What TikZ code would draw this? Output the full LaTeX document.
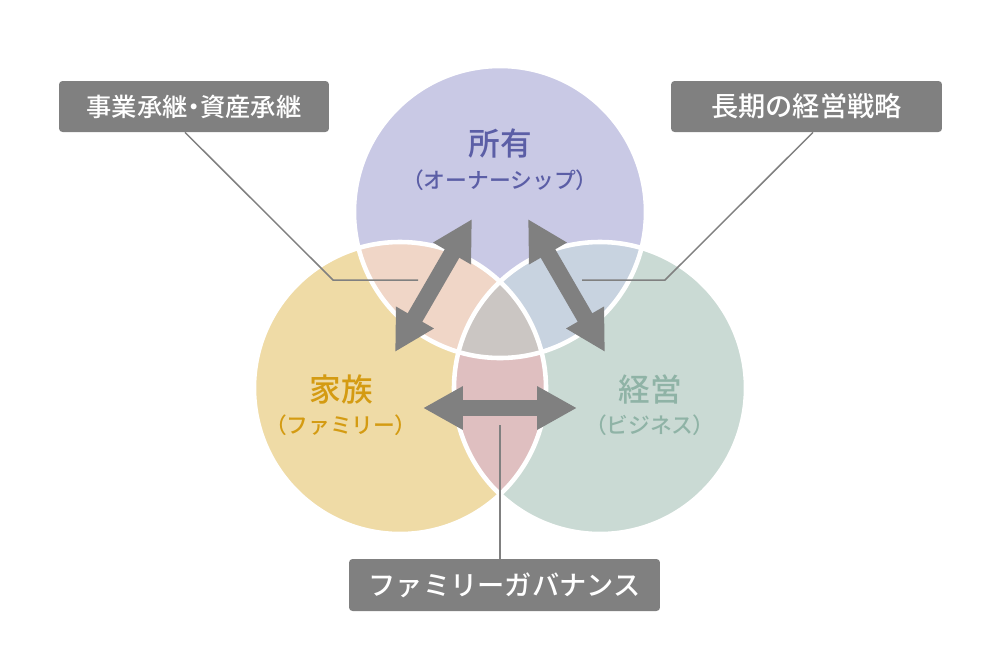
\documentclass[tikz,border=0pt]{standalone}
\usepackage{fontspec}
\setmainfont{Noto Sans CJK JP}[BoldFont={Noto Sans CJK JP Medium}]
\newfontfamily\paltfont{Noto Sans CJK JP}[BoldFont={Noto Sans CJK JP Medium}, RawFeature=+palt]
\newcommand{\lparen}{{\paltfont\bfseries （}}
\newcommand{\rparen}{{\paltfont\bfseries ）}}
\usetikzlibrary{arrows.meta}

\definecolor{ownfill}{HTML}{C9C9E5}
\definecolor{famfill}{HTML}{EFDBA6}
\definecolor{bizfill}{HTML}{CADAD4}
\definecolor{ofmix}{HTML}{F0D6C7}
\definecolor{obmix}{HTML}{C8D3E0}
\definecolor{fbmix}{HTML}{DFBFC0}
\definecolor{allmix}{HTML}{CBC6C3}
\definecolor{owntext}{HTML}{5B5EA6}
\definecolor{famtext}{HTML}{D49B12}
\definecolor{biztext}{HTML}{8FB3A6}
\definecolor{tipgray}{HTML}{808080}

\begin{document}
\begin{tikzpicture}[
  x=0.02cm, y=-0.02cm,
  ring/.style={draw=white, line width=2.6pt},
  twoway/.style={draw=tipgray, line width=9.6pt,
    {Triangle[length=22.7pt,width=23.2pt]}-{Triangle[length=22.7pt,width=23.2pt]}},
  leader/.style={draw=tipgray, line width=0.85pt},
  tag/.style={fill=tipgray, rounded corners=2pt, text=white, inner sep=0pt,
    minimum height=1.02cm, font=\bfseries\fontsize{15.5}{18}\selectfont},
  title/.style={font=\bfseries\fontsize{18}{20}\selectfont},
  subtitle/.style={font=\bfseries\fontsize{12.4}{14}\selectfont}
]
  \useasboundingbox (0,0) rectangle (1000,670);

  % circles
  \coordinate (own) at (500,212);
  \coordinate (fam) at (400,388);
  \coordinate (biz) at (600,388);
  \def\rad{146}

  \fill[ownfill] (own) circle (\rad);
  \fill[famfill] (fam) circle (\rad);
  \fill[bizfill] (biz) circle (\rad);

  % overlaps
  \begin{scope}
    \clip (own) circle (\rad);
    \fill[ofmix] (fam) circle (\rad);
    \fill[obmix] (biz) circle (\rad);
  \end{scope}
  \begin{scope}
    \clip (fam) circle (\rad);
    \fill[fbmix] (biz) circle (\rad);
  \end{scope}
  \begin{scope}
    \clip (own) circle (\rad);
    \clip (fam) circle (\rad);
    \fill[allmix] (biz) circle (\rad);
  \end{scope}

  \draw[ring] (own) circle (\rad);
  \draw[ring] (fam) circle (\rad);
  \draw[ring] (biz) circle (\rad);

  % circle labels
  \node[title, text=owntext] (ownname) at (500,143) {所有};
  \node[subtitle, text=owntext] (ownsub) at (500,180) {\lparen オーナーシップ\rparen};
  \node[title, text=famtext] (famname) at (341,389) {家族};
  \node[subtitle, text=famtext] (famsub) at (341,425) {\lparen ファミリー\rparen};
  \node[title, text=biztext] (bizname) at (650,389) {経営};
  \node[subtitle, text=biztext] (bizsub) at (650,425) {\lparen ビジネス\rparen};

  % tags
  \node[tag, minimum width=5.4cm, font=\paltfont\bfseries\fontsize{14.4}{17}\selectfont] (succ) at (194,106.5) {事業承継・資産承継};
  \node[tag, minimum width=5.42cm] (strat) at (806.5,106.5) {長期の経営戦略};
  \node[tag, minimum width=6.22cm, minimum height=1.04cm] (gov) at (504.5,585) {ファミリーガバナンス};

  % leader lines
  \coordinate (succbend) at (333,280);
  \coordinate (succend) at (418,280);
  \coordinate (stratbend) at (665,280);
  \coordinate (stratend) at (582,280);
  \coordinate (govend) at (500,425);
  \draw[leader] ([xshift=-0.18cm]succ.south) -- (succbend) -- (succend);
  \draw[leader] ([xshift=0.13cm]strat.south) -- (stratbend) -- (stratend);
  \draw[leader] (govend) -- (govend |- gov.north);

  % arrows
  \coordinate (a1) at (395,352);
  \coordinate (a2) at (472,219);
  \coordinate (b1) at (528,219);
  \coordinate (b2) at (605,352);
  \coordinate (c1) at (423,408);
  \coordinate (c2) at (577,408);
  \draw[twoway] (a1) -- (a2);
  \draw[twoway] (b1) -- (b2);
  \draw[twoway] (c1) -- (c2);
\end{tikzpicture}
\end{document}
